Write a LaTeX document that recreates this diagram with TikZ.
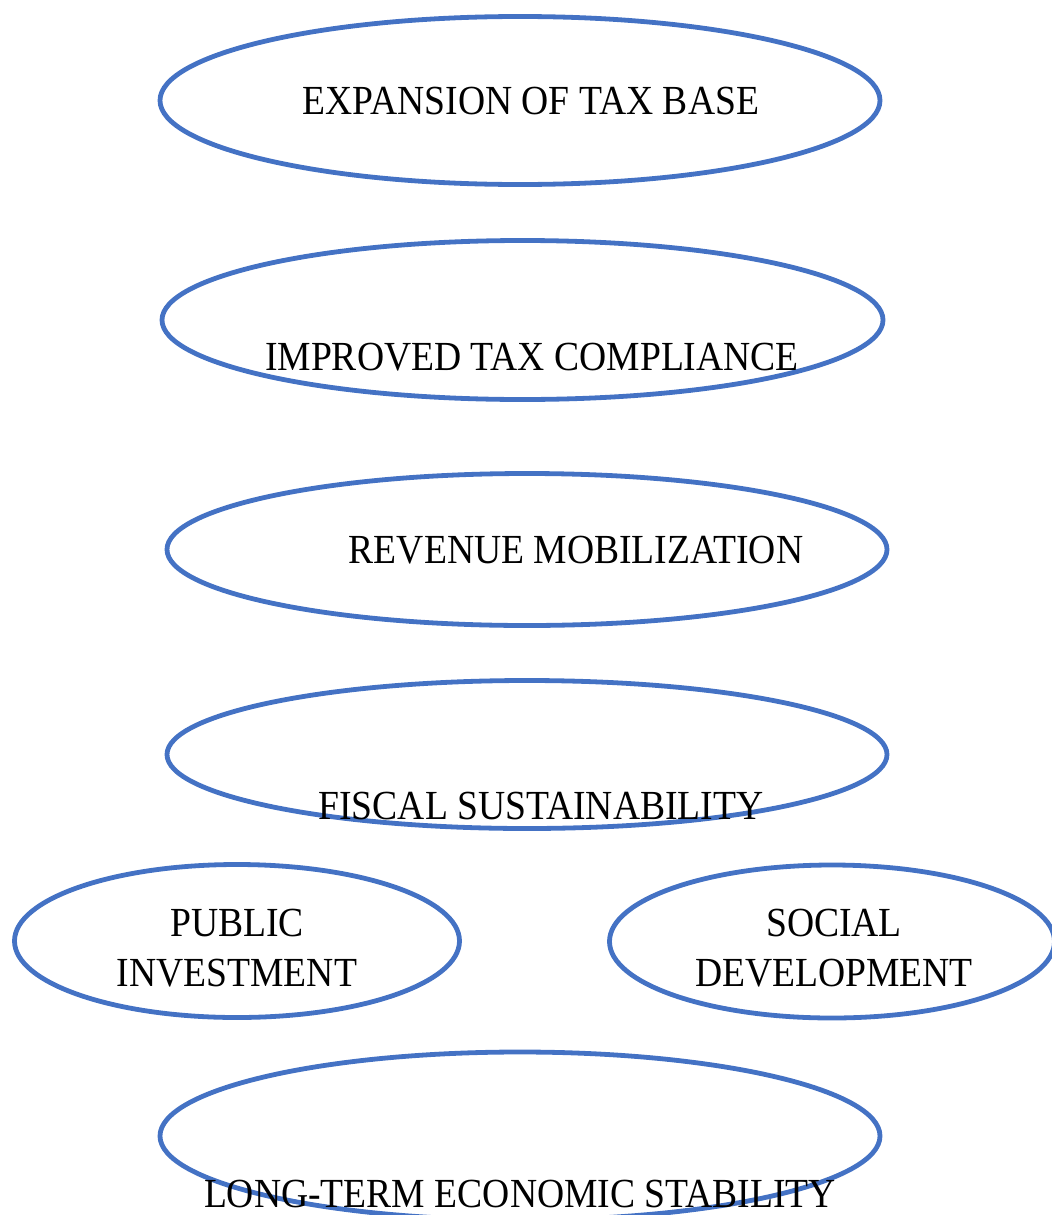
\documentclass[tikz,border=0pt]{standalone}
\usepackage{graphicx}
\usepackage{fontspec}
\setmainfont{Liberation Serif}
\usetikzlibrary{shapes.geometric}
\definecolor{ellblue}{HTML}{4472C4}
\begin{document}
\begin{tikzpicture}[x=0.5pt,y=-0.5pt,
  ell/.style={ellipse, draw=ellblue, line width=2.4pt, inner sep=0pt, outer sep=0pt},
  lbl/.style={anchor=base, inner sep=0pt, font=\fontsize{18.8}{22.4}\selectfont}]
\useasboundingbox (0,0) rectangle (1052,1215);
\clip (0,0) rectangle (1052,1215);
% ellipses
\node[ell, minimum width=360pt, minimum height=84pt] (e1) at (520,100.5) {};
\node[ell, minimum width=360.5pt, minimum height=79.5pt] (e2) at (522.5,320) {};
\node[ell, minimum width=360pt, minimum height=76pt] (e3) at (527,549.5) {};
\node[ell, minimum width=360pt, minimum height=74pt] (e4) at (527,754.5) {};
\node[ell, minimum width=222.5pt, minimum height=76.5pt] (e5) at (237,941) {};
\node[ell, minimum width=222.5pt, minimum height=76.5pt] (e6) at (832,941.5) {};
\node[ell, minimum width=360pt, minimum height=84pt] (e7) at (520,1136) {};
% texts
\node[lbl] (t1) at (531,114) {\scalebox{1}[1.1]{EXPANSION OF TAX BASE}};
\node[lbl] (t2) at (532,370) {\scalebox{1}[1.1]{IMPROVED TAX COMPLIANCE}};
\node[lbl] (t3) at (576,563) {\scalebox{1}[1.1]{REVENUE MOBILIZATION}};
\node[lbl] (t4) at (541,819) {\scalebox{1}[1.1]{FISCAL SUSTAINABILITY}};
\node[lbl] (t5) at (237,986) {\scalebox{1}[1.1]{\begin{tabular}[b]{@{}c@{}}PUBLIC\\INVESTMENT\end{tabular}}};
\node[lbl] (t6) at (834,986) {\scalebox{1}[1.1]{\begin{tabular}[b]{@{}c@{}}SOCIAL\\DEVELOPMENT\end{tabular}}};
\node[lbl] (t7) at (520,1207) {\scalebox{1}[1.1]{LONG-TERM ECONOMIC STABILITY}};
\end{tikzpicture}
\end{document}
